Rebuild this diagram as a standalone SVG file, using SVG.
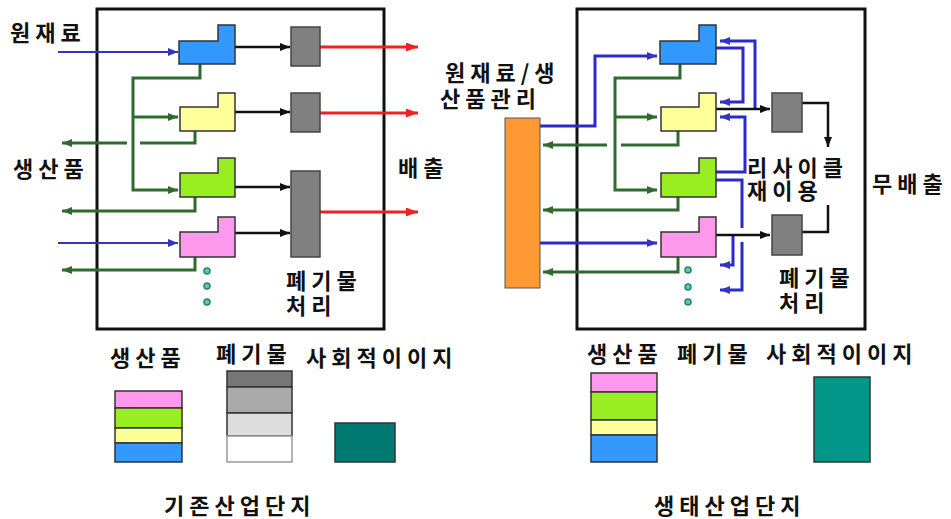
<svg xmlns="http://www.w3.org/2000/svg" width="951" height="519" viewBox="0 0 951 519">
<style>
.t{font-family:"Noto Sans CJK KR","Noto Sans",sans-serif;font-weight:bold;font-size:22px;letter-spacing:5px;fill:#111}
.frame{fill:#fff;stroke:#111;stroke-width:3}
.m{stroke:#333;stroke-width:1.5}
.blue{fill:#3399ff}.yel{fill:#ffff99}.grn{fill:#99ee22}.pink{fill:#ff99ee}
.gray{fill:#808080;stroke:#444;stroke-width:1.5}
.lk{fill:none;stroke:#111;stroke-width:2.5}
.lr{fill:none;stroke:#ee2222;stroke-width:3}
.lb{fill:none;stroke:#3333bb;stroke-width:2}
.lb2{fill:none;stroke:#2a2acc;stroke-width:3}
.lg{fill:none;stroke:#2f6b2f;stroke-width:3}
.dot{fill:#6cc0a8;stroke:#1f8a70;stroke-width:1.5}
.leg{stroke:#333;stroke-width:1.5}
</style>
<defs>
<marker id="ak" markerUnits="userSpaceOnUse" markerWidth="10" markerHeight="8" refX="10" refY="4" orient="auto"><path d="M0,0L10,4L0,8z" fill="#111"/></marker>
<marker id="ar" markerUnits="userSpaceOnUse" markerWidth="12" markerHeight="9" refX="12" refY="4.5" orient="auto"><path d="M0,0L12,4.5L0,9z" fill="#ee2222"/></marker>
<marker id="ab" markerUnits="userSpaceOnUse" markerWidth="10" markerHeight="8" refX="10" refY="4" orient="auto"><path d="M0,0L10,4L0,8z" fill="#3333bb"/></marker>
<marker id="ag" markerUnits="userSpaceOnUse" markerWidth="10" markerHeight="8" refX="10" refY="4" orient="auto"><path d="M0,0L10,4L0,8z" fill="#2f6b2f"/></marker>
</defs>
<rect width="951" height="519" fill="#fff"/>

<g id="left-frame"><rect class="frame" x="97" y="9" width="287" height="320"/></g>
<g id="right-frame"><rect class="frame" x="577" y="9" width="288" height="320"/></g>

<g id="connectors">
<path class="lb" d="M58,52H178" marker-end="url(#ab)"/>
<path class="lb" d="M58,243H178" marker-end="url(#ab)"/>
<path class="lk" d="M235,47H290" marker-end="url(#ak)"/>
<path class="lk" d="M235,112H290" marker-end="url(#ak)"/>
<path class="lk" d="M235,187H290" marker-end="url(#ak)"/>
<path class="lk" d="M235,233H290" marker-end="url(#ak)"/>
<path class="lr" d="M320,47H418" marker-end="url(#ar)"/>
<path class="lr" d="M320,113H418" marker-end="url(#ar)"/>
<path class="lr" d="M320,212H418" marker-end="url(#ar)"/>
<path class="lg" d="M200,64V78H133V190H178" marker-end="url(#ag)"/>
<path class="lg" d="M133,117H178" marker-end="url(#ag)"/>
<path class="lg" d="M195,131V143H140"/>
<path class="lg" d="M127,143H62" marker-end="url(#ag)"/>
<path class="lg" d="M195,197V211H62" marker-end="url(#ag)"/>
<path class="lg" d="M195,257V270H62" marker-end="url(#ag)"/>
<path class="lb2" d="M540,126H595V56H657" marker-end="url(#ab)"/>
<path class="lb2" d="M540,243H657" marker-end="url(#ab)"/>
<path class="lg" d="M680,64V78H615V190H657" marker-end="url(#ag)"/>
<path class="lg" d="M615,117H657" marker-end="url(#ag)"/>
<path class="lg" d="M678,131V145H621"/>
<path class="lg" d="M607,145H543" marker-end="url(#ag)"/>
<path class="lg" d="M678,197V210H543" marker-end="url(#ag)"/>
<path class="lg" d="M678,257V272H543" marker-end="url(#ag)"/>
<path class="lb2" d="M755,110V41H720" marker-end="url(#ab)"/>
<path class="lb2" d="M716,48H743V102H720" marker-end="url(#ab)"/>
<path class="lb2" d="M716,172H745V117H720" marker-end="url(#ab)"/>
<path class="lb2" d="M716,180H742V228"/>
<path class="lb2" d="M742,242V290H720" marker-end="url(#ab)"/>
<path class="lb2" d="M733,235V265H720" marker-end="url(#ab)"/>
<path class="lk" d="M716,109H770" marker-end="url(#ak)"/>
<path class="lk" d="M716,235H770" marker-end="url(#ak)"/>
<path class="lk" d="M802,103H828V147" marker-end="url(#ak)"/>
<path class="lk" d="M828,205V232H802"/>
</g>

<g id="L-blue"><polygon class="m blue" points="179,41 218,41 218,25 235,25 235,64 179,64"/></g>
<g id="L-yellow"><polygon class="m yel" points="180,107 218,107 218,93 235,93 235,131 180,131"/></g>
<g id="L-green"><polygon class="m grn" points="180,173 218,173 218,158 235,158 235,197 180,197"/></g>
<g id="L-pink"><polygon class="m pink" points="180,232 218,232 218,217 235,217 235,257 180,257"/></g>
<g id="L-waste1"><rect class="gray" x="291" y="27" width="29" height="39"/></g>
<g id="L-waste2"><rect class="gray" x="291" y="93" width="29" height="39"/></g>
<g id="L-waste3"><rect class="gray" x="291" y="171" width="29" height="86"/></g>
<g id="L-dots"><circle class="dot" cx="207" cy="271" r="3"/><circle class="dot" cx="207" cy="286" r="3"/><circle class="dot" cx="207" cy="302" r="3"/></g>

<g id="R-orange"><rect x="505" y="118" width="35" height="170" fill="#ff9933" stroke="#555" stroke-width="1"/></g>
<g id="R-blue"><polygon class="m blue" points="660,41 699,41 699,25 716,25 716,64 660,64"/></g>
<g id="R-yellow"><polygon class="m yel" points="661,107 699,107 699,93 716,93 716,131 661,131"/></g>
<g id="R-green"><polygon class="m grn" points="661,173 699,173 699,158 716,158 716,197 661,197"/></g>
<g id="R-pink"><polygon class="m pink" points="661,232 699,232 699,217 716,217 716,257 661,257"/></g>
<g id="R-waste1"><rect class="gray" x="772" y="93" width="30" height="39"/></g>
<g id="R-waste2"><rect class="gray" x="772" y="215" width="30" height="40"/></g>
<g id="R-dots"><circle class="dot" cx="688" cy="270" r="3"/><circle class="dot" cx="688" cy="287" r="3"/><circle class="dot" cx="688" cy="302" r="3"/></g>

<g id="labels">
<text class="t" x="10" y="41">원재료</text>
<text class="t" x="13" y="177">생산품</text>
<text class="t" x="398" y="176">배출</text>
<text class="t" x="286" y="289">폐기물<tspan x="286" dy="25">처리</tspan></text>
<text class="t" x="445" y="81">원재료/생<tspan x="440" dy="26">산품관리</tspan></text>
<text class="t" x="747" y="176">리사이클<tspan x="747" dy="23">재이용</tspan></text>
<text class="t" x="872" y="192">무배출</text>
<text class="t" x="779" y="286">폐기물<tspan x="779" dy="25">처리</tspan></text>
<text class="t" x="110" y="366">생산품</text>
<text class="t" x="216" y="362">폐기물</text>
<text class="t" x="306" y="366">사회적이이지</text>
<text class="t" x="164" y="514">기존산업단지</text>
<text class="t" x="587" y="362">생산품</text>
<text class="t" x="677" y="362">폐기물</text>
<text class="t" x="766" y="362">사회적이이지</text>
<text class="t" x="654" y="514">생태산업단지</text>
</g>

<g id="legend-left-products">
<rect class="leg" x="115" y="391" width="67" height="17" fill="#ff99ee"/>
<rect class="leg" x="115" y="408" width="67" height="20" fill="#99ee22"/>
<rect class="leg" x="115" y="428" width="67" height="15" fill="#ffff99"/>
<rect class="leg" x="115" y="443" width="67" height="19" fill="#3399ff"/>
</g>
<g id="legend-left-waste">
<rect class="leg" x="227" y="371" width="65" height="16" fill="#777"/>
<rect class="leg" x="227" y="387" width="65" height="26" fill="#aaa"/>
<rect class="leg" x="227" y="413" width="65" height="23" fill="#ddd"/>
<rect x="227" y="436" width="65" height="26" fill="#fff" stroke="#999" stroke-width="1.5"/>
</g>
<g id="legend-left-social"><rect class="leg" x="335" y="423" width="60" height="39" fill="#007a70"/></g>
<g id="legend-right-products">
<rect class="leg" x="591" y="373" width="66" height="19" fill="#ff99ee"/>
<rect class="leg" x="591" y="392" width="66" height="28" fill="#99ee22"/>
<rect class="leg" x="591" y="420" width="66" height="15" fill="#ffff99"/>
<rect class="leg" x="591" y="435" width="66" height="27" fill="#3399ff"/>
</g>
<g id="legend-right-social"><rect class="leg" x="814" y="377" width="56" height="85" fill="#009688"/></g>
</svg>
